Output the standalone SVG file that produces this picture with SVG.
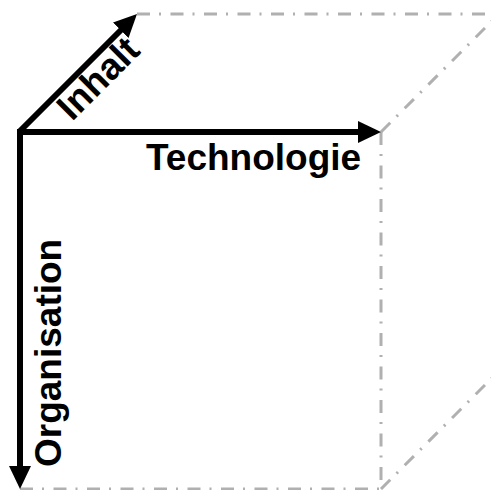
<svg xmlns="http://www.w3.org/2000/svg" width="491" height="490" viewBox="0 0 491 490">
  <style>
    .axis { stroke: #000; stroke-width: 6; fill: none; }
    .hidden { stroke: #b0b0b0; stroke-width: 3; fill: none; stroke-dasharray: 13 9 2 9.5; }
    .label { font-family: "Liberation Sans", Arial, sans-serif; font-weight: bold; font-size: 37px; fill: #000; }
  </style>
  <defs>
    <marker id="arrow" markerUnits="userSpaceOnUse" markerWidth="24" markerHeight="22" refX="11" refY="11" orient="auto">
      <path d="M0,0 L23,11 L0,22 Z" fill="#000"/>
    </marker>
  </defs>
  <rect width="491" height="490" fill="#fff"/>
  <g id="connectors">
    <line class="hidden" x1="137" y1="14" x2="499" y2="14"/>
    <line class="hidden" x1="381" y1="132" x2="499" y2="14"/>
    <line class="hidden" x1="381" y1="132" x2="381" y2="489"/>
    <line class="hidden" x1="381" y1="489" x2="499" y2="371"/>
    <line class="hidden" x1="20" y1="489" x2="381" y2="489"/>
    <line class="axis" x1="17" y1="132" x2="369" y2="132" marker-end="url(#arrow)"/>
    <line class="axis" x1="20" y1="130" x2="20" y2="477" marker-end="url(#arrow)"/>
    <line class="axis" x1="19" y1="132" x2="128.5" y2="22.5" marker-end="url(#arrow)"/>
  </g>
  <g id="technologie">
    <text class="label" x="146" y="170">Technologie</text>
  </g>
  <g id="organisation">
    <text class="label" transform="translate(61,467) rotate(-90)">Organisation</text>
  </g>
  <g id="inhalt">
    <text class="label" transform="translate(72,122) rotate(-45)">Inhalt</text>
  </g>
</svg>
